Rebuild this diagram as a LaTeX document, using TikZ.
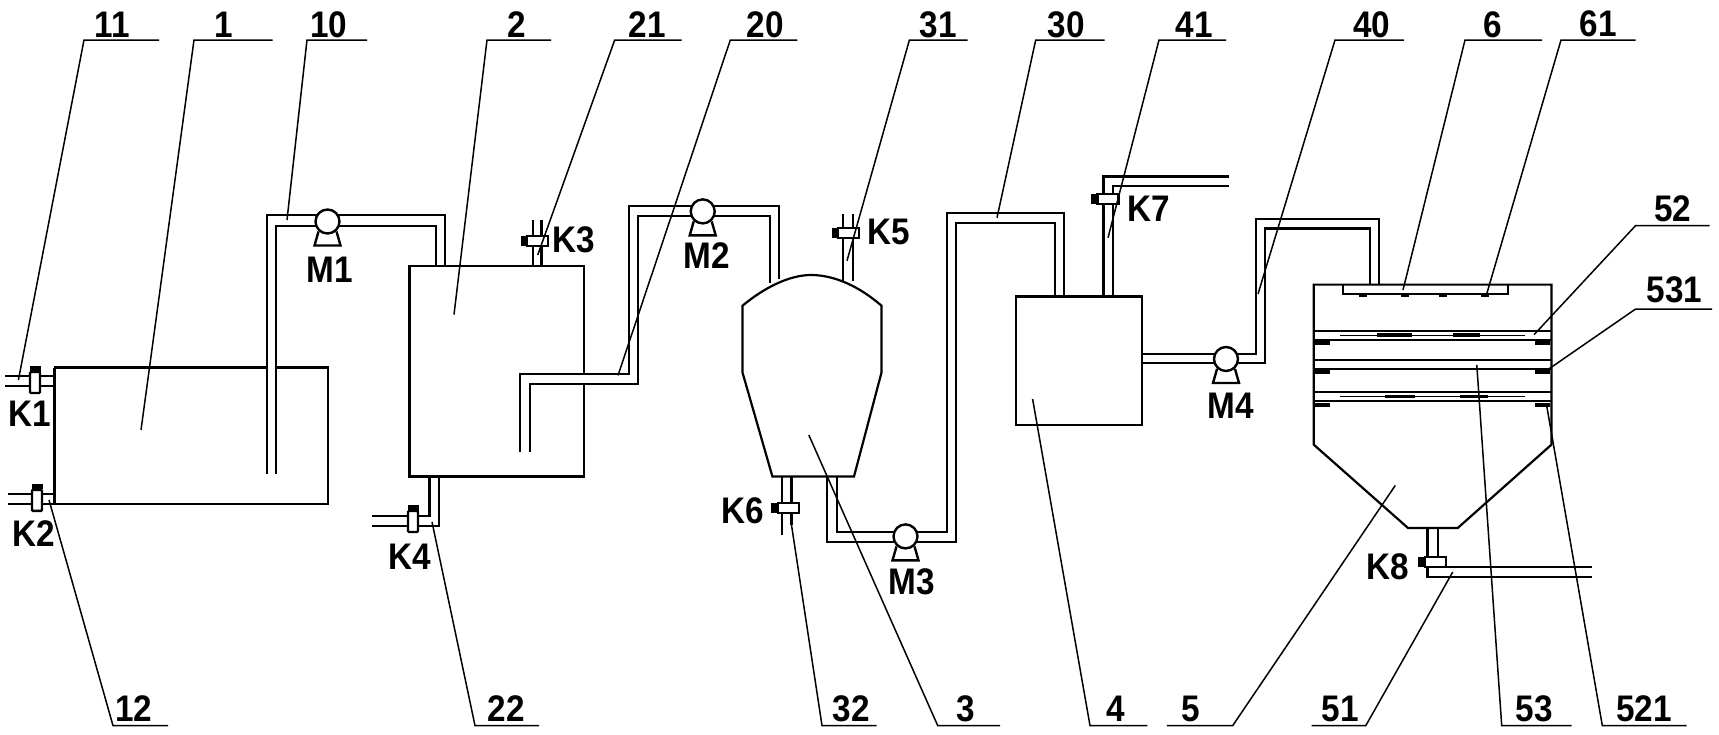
\documentclass[tikz,border=0pt]{standalone}
\usepackage{fontspec}
\setmainfont[FakeStretch=0.9]{Liberation Sans}
\usetikzlibrary{positioning}
\tikzset{
	wall/.style={black, line width=2.2pt, line join=miter},
	pipe/.style={black, line width=2.2pt, line join=miter},
	pad/.style={black, line width=3.6pt},
	leader/.style={black, line width=1.5pt},
	tag/.style={inner sep=0pt, font=\fontsize{37}{37}\selectfont\bfseries},
	body/.style={draw=black, fill=white, line width=2.4pt},
}
\begin{document}
\begin{tikzpicture}[x=1pt, y=-1pt]
	\useasboundingbox (0, 0) rectangle (1719, 734);

	% Tanks
	\draw[wall] (266.7, 367.5) -- (54.7, 367.5) -- (54.7, 503.7) -- (328, 503.7) -- (328, 367.5) -- (276.3, 367.5);
	\draw[wall, line width=3pt] (54.7, 367.5) -- (54.7, 503.7);
	\draw[wall] (584, 374) -- (584, 266) -- (409.5, 266) -- (409.5, 476.5) -- (584, 476.5) -- (584, 384);
	\draw[wall] (742.5, 305.7) .. controls (765, 287) and (790, 275) .. (811, 275) .. controls (835, 275) and (860, 287) .. (881.5, 305.7) -- (881.5, 372.5) -- (854, 476.5) -- (772.4, 476.5) -- (742.5, 372.5) -- cycle;
	\draw[wall] (1015.8, 296.4) rectangle (1142, 424.6);
	\draw[wall] (1313.8, 284.6) -- (1551.4, 284.6) -- (1551.4, 444.7) -- (1457.7, 528) -- (1408, 528) -- (1313.8, 444.7) -- cycle;

	% Layers of tank 5
	\draw[wall] (1343.3, 284.6) -- (1343.3, 294) -- (1508.3, 294) -- (1508.3, 284.6);
	\foreach \layery in {330.7, 340, 360, 369.3, 392.3, 400.7}
		\draw[wall] (1313.8, \layery) -- (1551.4, \layery);
	\draw[black, line width=1pt] (1340, 335) -- (1525, 335);
	\draw[black, line width=1pt] (1340, 396.5) -- (1525, 396.5);
	\foreach \nozzlex in {1363, 1405, 1443, 1485}
		\draw[pad] (\nozzlex-4, 295.5) -- (\nozzlex+4, 295.5);
	\foreach \padx/\pady/\padw in {1377/335/35, 1453/335/27, 1385/396.5/30, 1460/396.5/28}
		\draw[pad] (\padx, \pady) -- (\padx+\padw, \pady);
	\foreach \pady in {343, 372, 405} {
		\draw[pad] (1315, \pady) -- (1330, \pady);
		\draw[pad] (1535, \pady) -- (1550, \pady);
	}

	% Pipes
	\draw[pipe] (5.4, 376) -- (54.7, 376);
	\draw[pipe] (5.4, 386) -- (54.7, 386);
	\draw[pipe] (8.4, 494) -- (54.7, 494);
	\draw[pipe] (8.4, 503.7) -- (54.7, 503.7);
	\draw[pipe] (266.7, 473.7) -- (266.7, 215.3) -- (445, 215.3) -- (445, 266);
	\draw[pipe] (276.3, 473.7) -- (276.3, 225.6) -- (436, 225.6) -- (436, 266);
	\draw[pipe] (532.7, 266) -- (532.7, 220);
	\draw[pipe] (541.5, 266) -- (541.5, 220);
	\draw[pipe] (429.4, 476.5) -- (429.4, 516) -- (372, 516);
	\draw[pipe] (439, 476.5) -- (439, 525.7) -- (372, 525.7);
	\draw[pipe] (519.7, 451.7) -- (519.7, 374) -- (628.9, 374) -- (628.9, 206) -- (779, 206) -- (779, 279);
	\draw[pipe] (530, 451.7) -- (530, 384) -- (638, 384) -- (638, 216) -- (770, 216) -- (770, 283);
	\draw[pipe] (843.2, 281) -- (843.2, 214);
	\draw[pipe] (852.8, 281) -- (852.8, 214);
	\draw[pipe] (782, 476.5) -- (782, 534.6);
	\draw[pipe] (791.5, 476.5) -- (791.5, 525);
	\draw[pipe] (827, 476.5) -- (827, 541.6) -- (955.7, 541.6) -- (955.7, 223) -- (1054.8, 223) -- (1054.8, 296.4);
	\draw[pipe] (836.7, 476.5) -- (836.7, 532) -- (947, 532) -- (947, 213) -- (1064, 213) -- (1064, 296.4);
	\draw[pipe] (1103.4, 296.4) -- (1103.4, 176.5) -- (1229, 176.5);
	\draw[pipe] (1113, 296.4) -- (1113, 186) -- (1229, 186);
	\draw[pipe] (1142, 353.6) -- (1255.6, 353.6) -- (1255.6, 218.6) -- (1378.8, 218.6) -- (1378.8, 284.6);
	\draw[pipe] (1142, 363) -- (1264.8, 363) -- (1264.8, 228.4) -- (1369.6, 228.4) -- (1369.6, 284.6);
	\draw[pipe] (1427.5, 528) -- (1427.5, 577) -- (1592.4, 577);
	\draw[pipe] (1437.8, 528) -- (1437.8, 567.3) -- (1592.4, 567.3);

	% Pumps
	\foreach \pumpx/\pumpy in {327.5/221.5, 702.7/211.4, 905.5/536.4, 1226/359} {
		\draw[body] (\pumpx-9, \pumpy+10) -- (\pumpx-13, \pumpy+24) -- (\pumpx+13, \pumpy+24) -- (\pumpx+9, \pumpy+10);
		\draw[body] (\pumpx, \pumpy) circle (12);
	}

	% Valves on horizontal pipes
	\foreach \valvex/\valvey in {35/382.5, 37/500.3, 413/521.5} {
		\fill[black] (\valvex-5.5, \valvey-16.5) rectangle (\valvex+5.5, \valvey-11);
		\draw[body, rounded corners=1pt] (\valvex-5, \valvey-10.5) rectangle (\valvex+5, \valvey+10.5);
	}
	% Valves on vertical pipes
	\foreach \valvex/\valvey in {537.5/240.7, 848.6/232.8, 788.2/508.2, 1107.8/199, 1435.2/561.7} {
		\fill[black] (\valvex-17, \valvey-5) rectangle (\valvex-11, \valvey+5);
		\draw[body] (\valvex-10.5, \valvey-5) rectangle (\valvex+10.5, \valvey+5);
	}

	% Tags on top
	\node[tag] (t11) at (112, 25) {11};
	\node[tag] (t1) at (224, 24.5) {1};
	\node[tag] (t10) at (329, 25) {10};
	\node[tag] (t2) at (517, 24.5) {2};
	\node[tag] (t21) at (647, 25) {21};
	\node[tag] (t20) at (765.5, 25) {20};
	\node[tag] (t31) at (938, 25) {31};
	\node[tag] (t30) at (1066, 25) {30};
	\node[tag] (t41) at (1194.4, 25) {41};
	\node[tag] (t40) at (1371.6, 24.5) {40};
	\node[tag] (t6) at (1493, 25) {6};
	\node[tag] (t61) at (1598, 23.5) {61};
	\node[tag] (t52) at (1672.8, 209) {52};
	\node[tag] (t531) at (1674.7, 290) {531};

	% Tags at the bottom
	\node[tag] (t12) at (134, 709) {12};
	\node[tag] (t22) at (506, 709) {22};
	\node[tag] (t32) at (851, 709) {32};
	\node[tag] (t3) at (965.7, 709) {3};
	\node[tag] (t4) at (1115.7, 709) {4};
	\node[tag] (t5) at (1190.6, 709) {5};
	\node[tag] (t51) at (1340, 709) {51};
	\node[tag] (t53) at (1534, 709) {53};
	\node[tag] (t521) at (1644, 709) {521};

	% Valve and pump names
	\node[tag] (k1) at (30, 414) {K1};
	\node[tag] (k2) at (34, 534) {K2};
	\node[tag] (k3) at (574, 239.7) {K3};
	\node[tag] (k4) at (410, 556.5) {K4};
	\node[tag] (k5) at (889, 232) {K5};
	\node[tag] (k6) at (742.5, 511) {K6};
	\node[tag] (k7) at (1149, 209) {K7};
	\node[tag] (k8) at (1388, 566.4) {K8};
	\node[tag] (m1) at (330, 270) {M1};
	\node[tag] (m2) at (706.6, 256) {M2};
	\node[tag] (m3) at (912, 582) {M3};
	\node[tag] (m4) at (1231, 405.4) {M4};

	% Leaders
	\draw[leader] (159, 40) -- (84, 40) -- (18.4, 380);
	\draw[leader] (272.5, 40) -- (194, 40) -- (141, 430);
	\draw[leader] (367, 40) -- (307, 40) -- (287, 220);
	\draw[leader] (551, 40) -- (487, 40) -- (454, 314.6);
	\draw[leader] (681.7, 40) -- (614.7, 40) -- (537.7, 255);
	\draw[leader] (797.3, 40) -- (730.3, 40) -- (618, 375.4);
	\draw[leader] (967.6, 40) -- (909.4, 40) -- (847, 260.7);
	\draw[leader] (1104.6, 40) -- (1035.7, 40) -- (997, 217.7);
	\draw[leader] (1226, 40) -- (1159, 40) -- (1108, 237.8);
	\draw[leader] (1404, 40) -- (1335, 40) -- (1258, 294);
	\draw[leader] (1542, 40) -- (1465, 40) -- (1403, 290);
	\draw[leader] (1635.6, 40) -- (1561, 40) -- (1486.4, 295);
	\draw[leader] (1709.5, 225.6) -- (1635.6, 225.6) -- (1534, 334.7);
	\draw[leader] (1712, 309) -- (1635.6, 309) -- (1547.6, 369.8);
	\draw[leader] (168, 725.6) -- (113, 725.6) -- (49, 500);
	\draw[leader] (539, 725.6) -- (475, 725.6) -- (432, 522);
	\draw[leader] (876.5, 725.6) -- (822, 725.6) -- (791.5, 525);
	\draw[leader] (1000, 725.6) -- (937.7, 725.6) -- (808.8, 435);
	\draw[leader] (1147.4, 725.6) -- (1090, 725.6) -- (1032.6, 399);
	\draw[leader] (1166.8, 725.6) -- (1232.7, 725.6) -- (1395.3, 485.4);
	\draw[leader] (1311.5, 725.6) -- (1365.8, 725.6) -- (1452.7, 572);
	\draw[leader] (1571.7, 725.6) -- (1501.7, 725.6) -- (1476.8, 365);
	\draw[leader] (1686.5, 725.6) -- (1602.3, 725.6) -- (1546.8, 406.4);
\end{tikzpicture}
\end{document}
